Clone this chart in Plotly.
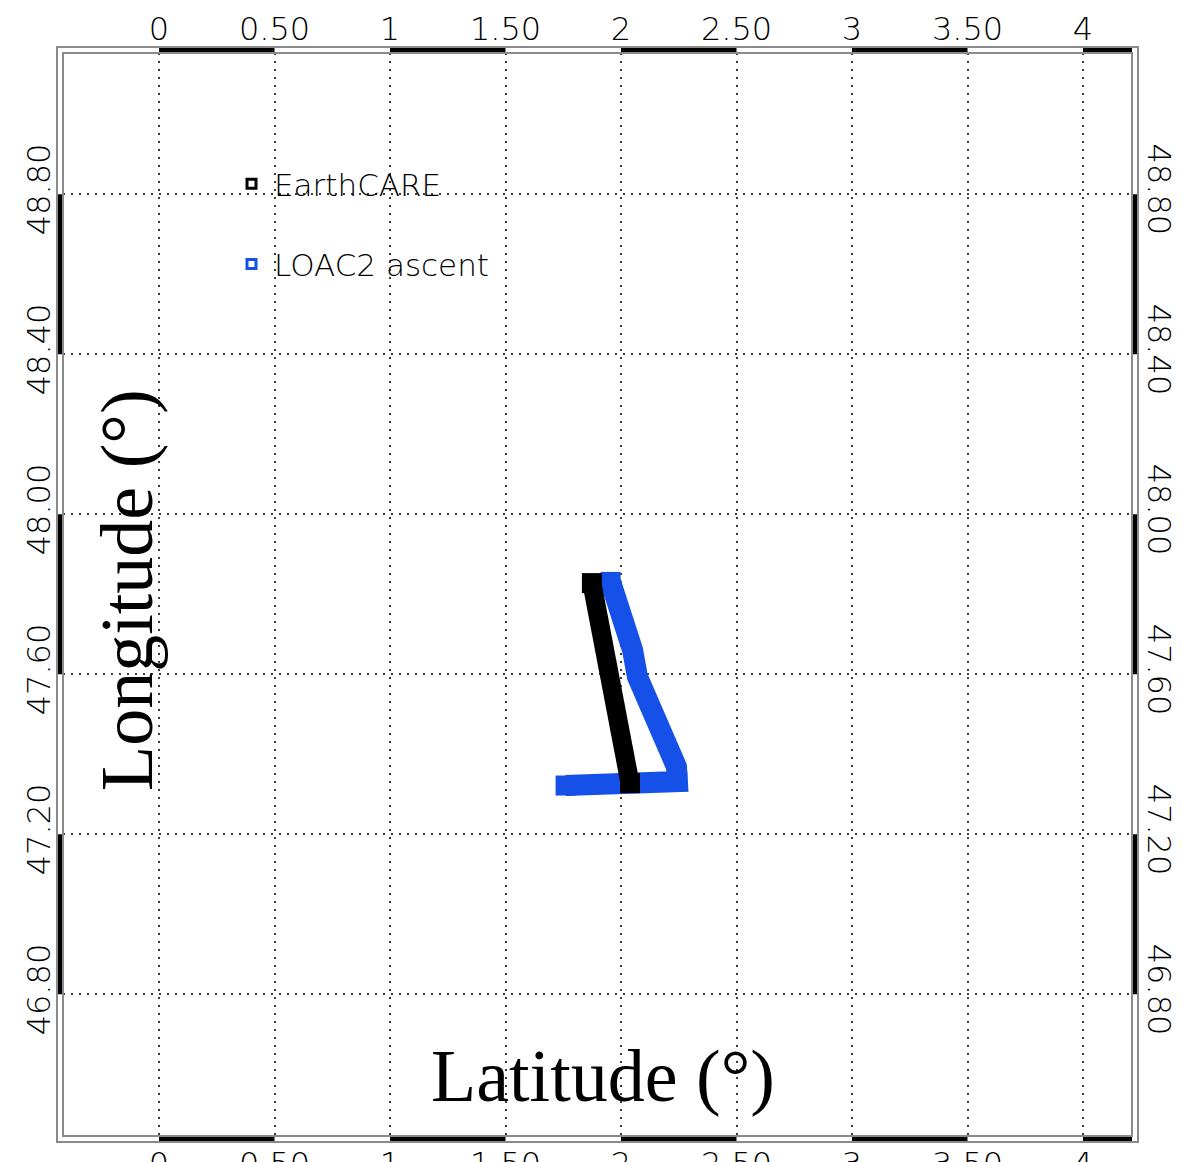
import plotly.graph_objects as go

# ---- data ----
x_ticks = [0, 0.5, 1, 1.5, 2, 2.5, 3, 3.5, 4]
x_tick_labels = ["0", "0.50", "1", "1.50", "2", "2.50", "3", "3.50", "4"]
y_ticks = [46.8, 47.2, 47.6, 48.0, 48.4, 48.8]
y_tick_labels = ["46.80", "47.20", "47.60", "48.00", "48.40", "48.80"]

earthcare_lon = [1.874, 1.949, 2.039]
earthcare_lat = [47.828, 47.600, 47.328]

loac2_lon = [1.760, 1.870, 2.000, 2.120, 2.244, 2.240, 2.205, 2.154, 2.110,
             2.071, 2.050, 2.024, 1.989, 1.955]
loac2_lat = [47.322, 47.324, 47.327, 47.330, 47.332, 47.369, 47.412, 47.479,
             47.537, 47.594, 47.661, 47.719, 47.786, 47.831]

series_names = ["EarthCARE", "LOAC2 ascent"]

# ---- layout geometry (page body adds an 8 px offset) ----
W, H = 1176, 1154
ml, mr, mt, mb = 55, 52, 45, 26
pw, ph = W - ml - mr, H - mt - mb
x_range = [-0.4156, 4.2121]
y_range = [46.446, 49.153]
dx, dy = 6.0 / pw, 6.0 / ph

BLUE = "#1550e8"
FRAME = "#8a8a8a"
GRID = "#3c3c3c"
TICKFONT = dict(family="DejaVu Sans", size=32, color="black", weight=200)


def end_sizes(n, size, extra=()):
    s = [0] * n
    s[0] = size
    s[-1] = size
    for k in extra:
        s[k] = size
    return s


fig = go.Figure()

# tracks
fig.add_trace(go.Scatter(
    x=loac2_lon, y=loac2_lat, mode="lines+markers",
    line=dict(color=BLUE, width=21),
    marker=dict(symbol="square", size=end_sizes(len(loac2_lon), 20, extra=(4,)),
                color=BLUE, opacity=1, line=dict(width=0)),
    showlegend=False, hoverinfo="skip"))
fig.add_trace(go.Scatter(
    x=earthcare_lon, y=earthcare_lat, mode="lines+markers",
    line=dict(color="black", width=19),
    marker=dict(symbol="square", size=end_sizes(len(earthcare_lon), 20),
                color="black", opacity=1, line=dict(width=0)),
    showlegend=False, hoverinfo="skip"))

# legend entries
for name, col, grp in [(series_names[0], "black", "a"), (series_names[1], BLUE, "b")]:
    fig.add_trace(go.Scatter(
        x=[None], y=[None], mode="markers", name=name, legendgroup=grp,
        marker=dict(symbol="square-open", size=9, color=col, line=dict(width=3, color=col))))

# invisible trace for the secondary (bottom/right) axes
fig.add_trace(go.Scatter(x=[None], y=[None], xaxis="x2", yaxis="y2",
                         showlegend=False, hoverinfo="skip"))

shapes = []
# black alternating bars along the frame (top / bottom)
xb = x_ticks + [x_range[1]]
for i in range(0, len(x_ticks), 2):
    a, b = xb[i], xb[i + 1]
    for y0, y1 in [(1, 1 + dy), (-dy, 0)]:
        shapes.append(dict(type="rect", xref="x", yref="paper", x0=a, x1=b,
                           y0=y0, y1=y1, fillcolor="black", line=dict(width=0)))
# left / right
for i in range(0, len(y_ticks) - 1, 2):
    a, b = y_ticks[i], y_ticks[i + 1]
    for x0, x1 in [(-dx, 0), (1, 1 + dx)]:
        shapes.append(dict(type="rect", xref="paper", yref="y", x0=x0, x1=x1,
                           y0=a, y1=b, fillcolor="black", line=dict(width=0)))
# inner and outer frame lines
shapes.append(dict(type="rect", xref="paper", yref="paper", x0=0, x1=1, y0=0, y1=1,
                   line=dict(color=FRAME, width=2), fillcolor="rgba(0,0,0,0)"))
shapes.append(dict(type="rect", xref="paper", yref="paper", x0=-dx, x1=1 + dx,
                   y0=-dy, y1=1 + dy, line=dict(color=FRAME, width=2),
                   fillcolor="rgba(0,0,0,0)"))

axis_common = dict(zeroline=False, showline=False, ticks="", fixedrange=True)

fig.update_layout(
    width=W, height=H,
    margin=dict(l=ml, r=mr, t=mt, b=mb, autoexpand=False),
    paper_bgcolor="white", plot_bgcolor="white",
    xaxis=dict(range=x_range, side="top", tickvals=x_ticks, ticktext=x_tick_labels,
               tickfont=TICKFONT, showgrid=True, gridcolor=GRID, gridwidth=2,
               griddash="2px,6px", ticklabelstandoff=6, automargin=False, **axis_common),
    xaxis2=dict(range=x_range, side="bottom", overlaying="x", anchor="y2",
                tickvals=x_ticks, ticktext=x_tick_labels, tickfont=TICKFONT,
                showgrid=False, ticklabelstandoff=6, automargin=False, **axis_common),
    yaxis=dict(range=y_range, side="left", tickvals=y_ticks, ticktext=y_tick_labels,
               tickfont=TICKFONT, tickangle=-90, showgrid=True, gridcolor=GRID,
               gridwidth=2, griddash="2px,6px", ticklabelstandoff=6, automargin=False,
               **axis_common),
    yaxis2=dict(range=y_range, side="right", overlaying="y", anchor="x2",
                tickvals=y_ticks, ticktext=y_tick_labels, tickfont=TICKFONT,
                tickangle=90, showgrid=False, ticklabelstandoff=9, automargin=False,
                **axis_common),
    shapes=shapes,
    legend=dict(x=(221 - ml) / pw, y=1 - (149 - mt) / ph, xanchor="left", yanchor="top",
                bgcolor="rgba(0,0,0,0)", borderwidth=0, traceorder="grouped",
                tracegroupgap=37, itemwidth=35,
                font=dict(family="DejaVu Sans", size=31, color="black", weight=200)),
    annotations=[
        dict(text="Latitude (°)", xref="paper", yref="paper",
             x=(595 - ml) / pw, y=1 - (1068 - mt) / ph, xanchor="center", yanchor="middle",
             showarrow=False, font=dict(family="Liberation Serif", size=74, color="black")),
        dict(text="Longitude (°)", xref="paper", yref="paper", textangle=-90,
             x=(119 - ml) / pw, y=1 - (582 - mt) / ph, xanchor="center", yanchor="middle",
             showarrow=False, font=dict(family="Liberation Serif", size=74, color="black")),
    ],
)

fig.write_html("out.html")
